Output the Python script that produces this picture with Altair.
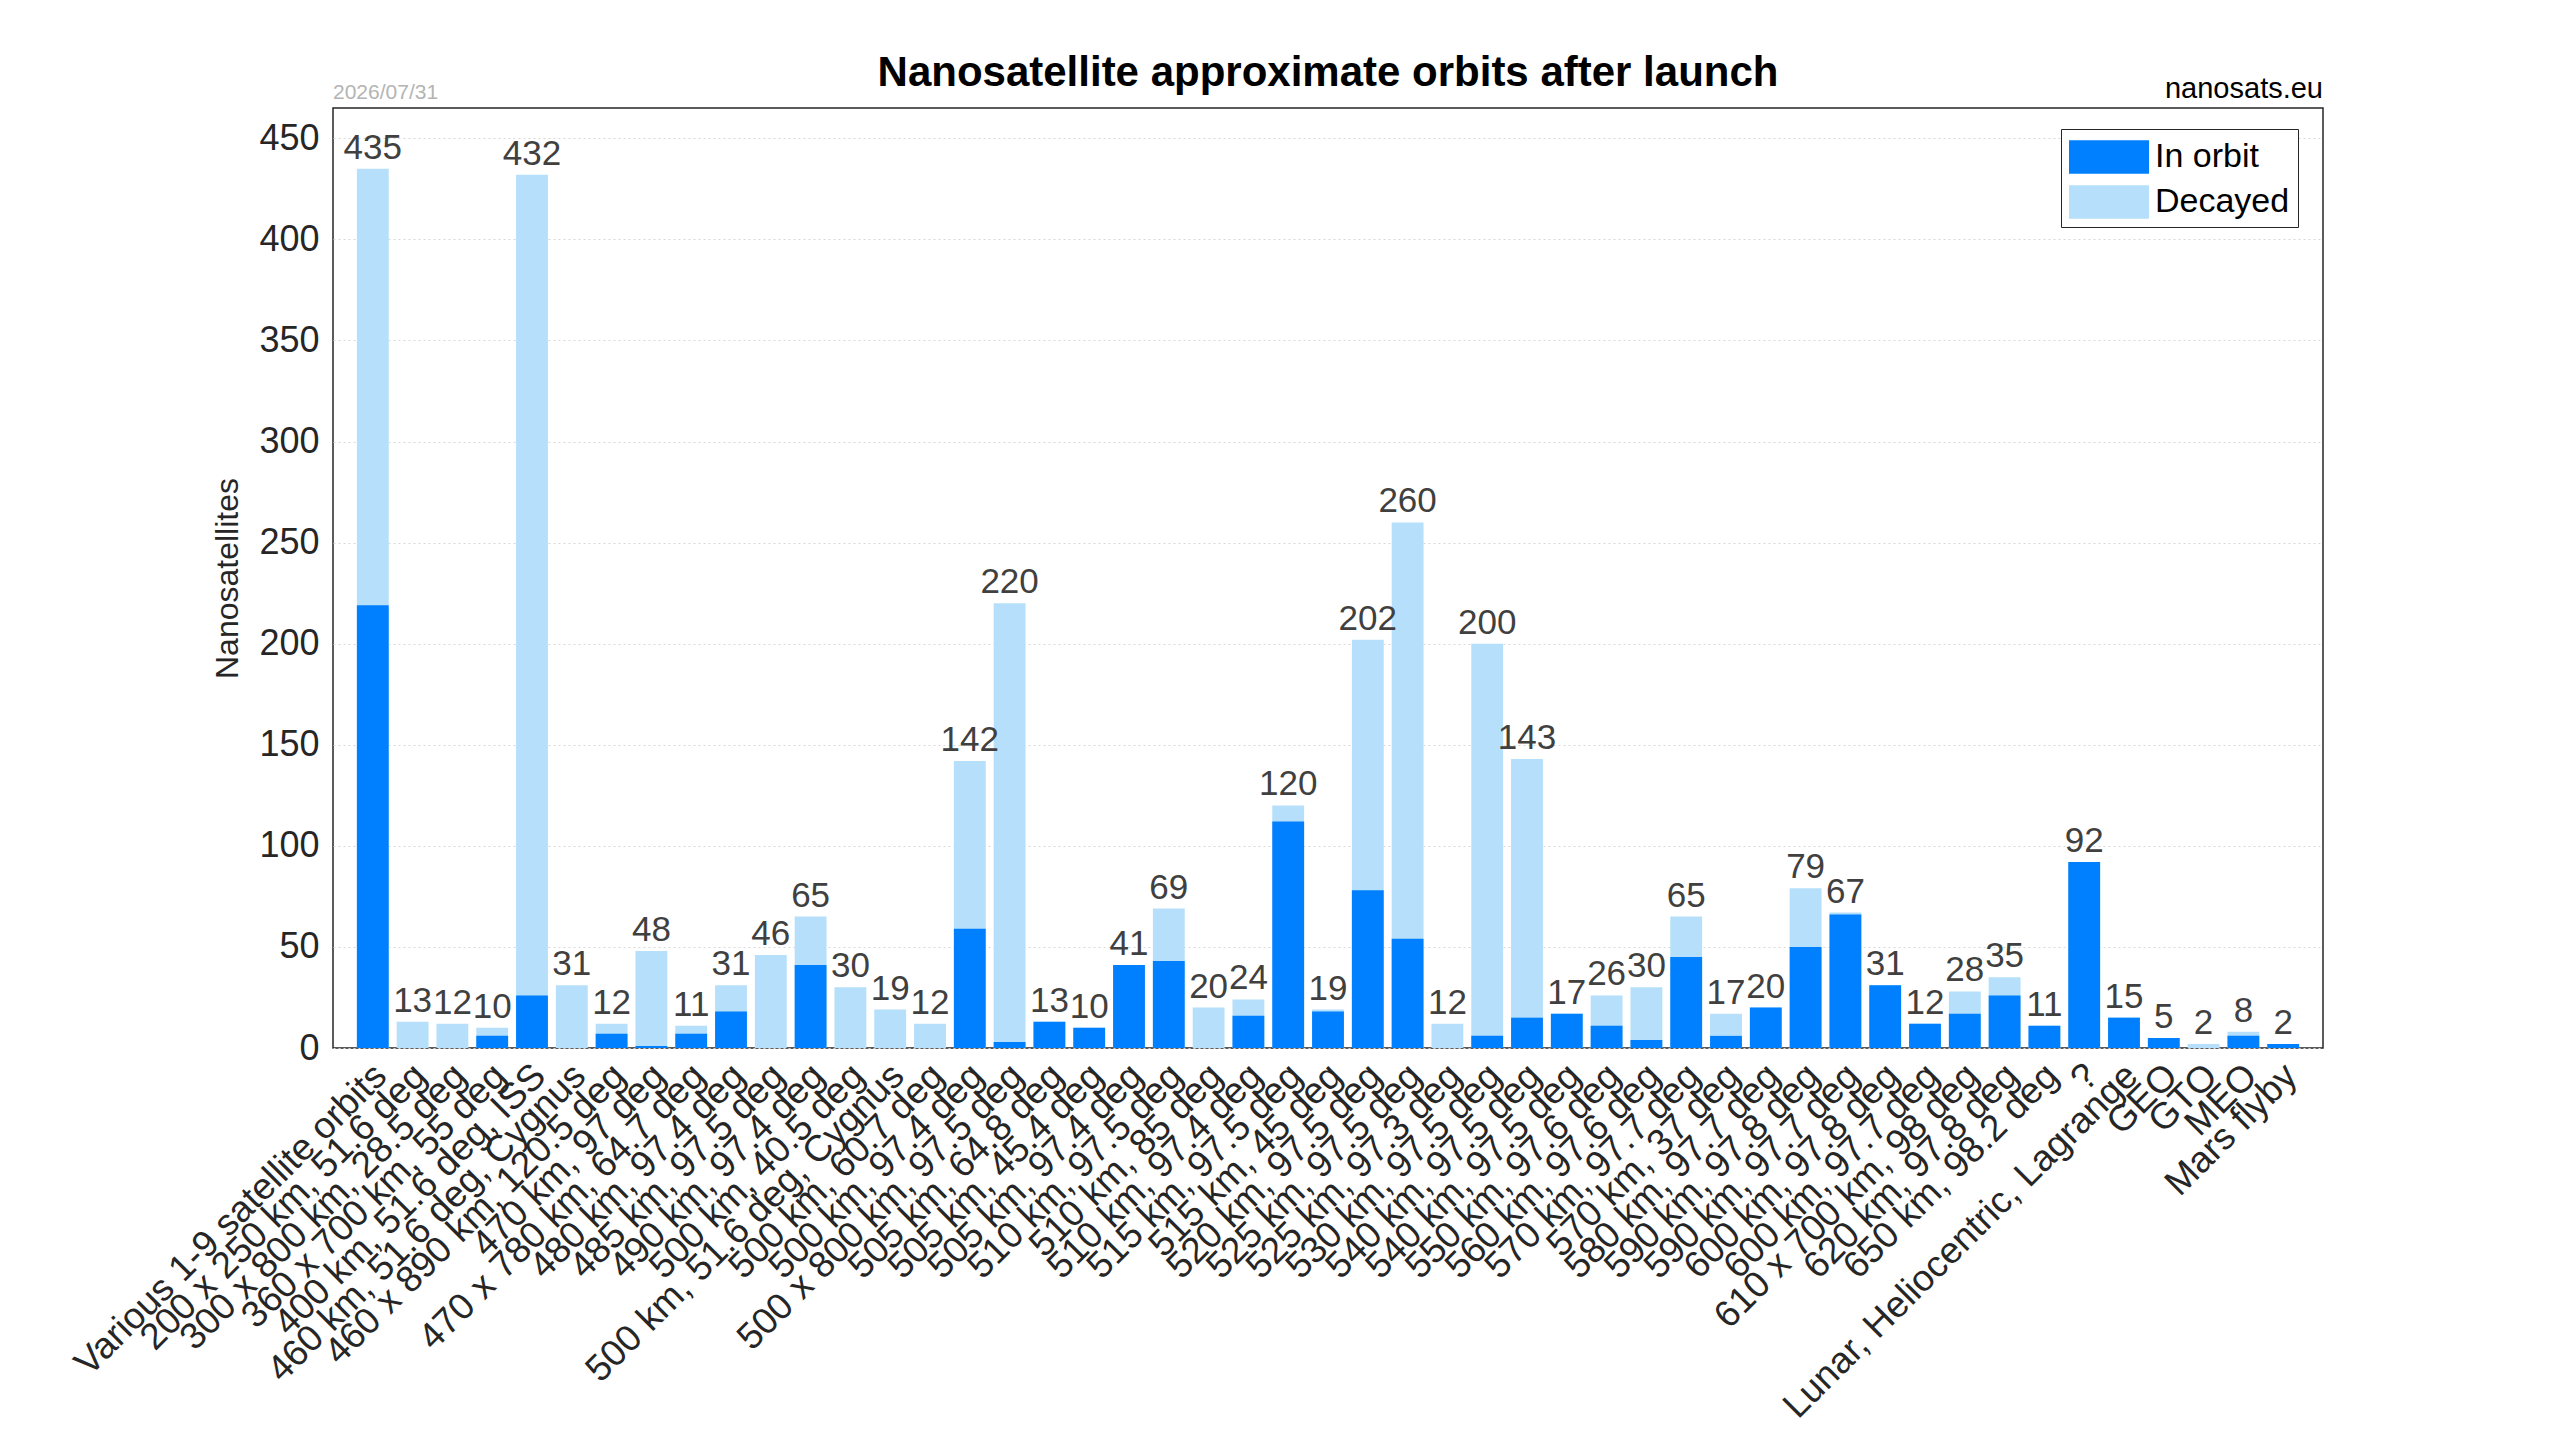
import json
import altair as alt
import pandas as pd

labels = [
    "Various 1-9 satellite orbits",
    "200 x 250 km, 51.6 deg",
    "300 x 800 km, 28.5 deg",
    "360 x 700 km, 55 deg",
    "400 km, 51.6 deg, ISS",
    "460 km, 51.6 deg, Cygnus",
    "460 x 890 km, 120.5 deg",
    "470 km, 97 deg",
    "470 x 780 km, 64.7 deg",
    "480 km, 97.4 deg",
    "485 km, 97.5 deg",
    "490 km, 97.4 deg",
    "500 km, 40.5 deg",
    "500 km, 51.6 deg, Cygnus",
    "500 km, 60.7 deg",
    "500 km, 97.4 deg",
    "500 x 800 km, 97.5 deg",
    "505 km, 64.8 deg",
    "505 km, 45.4 deg",
    "505 km, 97.4 deg",
    "510 km, 97.5 deg",
    "510 km, 85 deg",
    "510 km, 97.4 deg",
    "515 km, 97.5 deg",
    "515 km, 45 deg",
    "520 km, 97.5 deg",
    "525 km, 97.5 deg",
    "525 km, 97.3 deg",
    "530 km, 97.5 deg",
    "540 km, 97.5 deg",
    "540 km, 97.5 deg",
    "550 km, 97.6 deg",
    "560 km, 97.6 deg",
    "570 km, 97.7 deg",
    "570 km, 37 deg",
    "580 km, 97.7 deg",
    "590 km, 97.8 deg",
    "590 km, 97.7 deg",
    "600 km, 97.8 deg",
    "600 km, 97.7 deg",
    "610 x 700 km, 98 deg",
    "620 km, 97.8 deg",
    "650 km, 98.2 deg",
    "?",
    "Lunar, Heliocentric, Lagrange",
    "GEO",
    "GTO",
    "MEO",
    "Mars flyby",
]

total = [435, 13, 12, 10, 432, 31, 12, 48, 11, 31,
         46, 65, 30, 19, 12, 142, 220, 13, 10, 41,
         69, 20, 24, 120, 19, 202, 260, 12, 200, 143,
         17, 26, 30, 65, 17, 20, 79, 67, 31, 12,
         28, 35, 11, 92, 15, 5, 2, 8, 2]

in_orbit = [219, 0, 0, 6, 26, 0, 7, 1, 7, 18,
            0, 41, 0, 0, 0, 59, 3, 13, 10, 41,
            43, 0, 16, 112, 18, 78, 54, 0, 6, 15,
            17, 11, 4, 45, 6, 20, 50, 66, 31, 12,
            17, 26, 11, 92, 15, 5, 0, 6, 2]

series_names = ["In orbit", "Decayed"]
series_colors = ["#0080ff", "#b5dffa"]
y_ticks = [0, 50, 100, 150, 200, 250, 300, 350, 400, 450]
title_text = "Nanosatellite approximate orbits after launch"
date_text = "2026/07/31"
source_text = "nanosats.eu"

FONT = "Liberation Sans"
W, H = 1990, 940

n = len(labels)
idx = list(range(n))

rows = []
for i in idx:
    rows.append({"idx": i, "status": "Decayed", "value": total[i], "ord": 0})
for i in idx:
    rows.append({"idx": i, "status": "In orbit", "value": in_orbit[i], "ord": 1})
bars_df = pd.DataFrame(rows)
totals_df = pd.DataFrame({"idx": idx, "total": total})

label_expr = "[" + ",".join(json.dumps(s) for s in labels) + "][datum.value]"

x_enc = alt.X(
    "idx:O",
    scale=alt.Scale(paddingInner=0.2, paddingOuter=0.6),
    axis=alt.Axis(
        title=None,
        labelExpr=label_expr,
        labelAngle=-45,
        labelAlign="right",
        labelBaseline="middle",
        labelPadding=22,
        labelOffset=8,
        labelFontSize=37,
        labelFont=FONT,
        labelColor="#262626",
        ticks=False,
        domain=False,
        labelOverlap=False,
        labelLimit=0,
    ),
)
y_scale = alt.Scale(domain=[0, 465], nice=False)

bars = alt.Chart(bars_df).mark_bar().encode(
    x=x_enc,
    y=alt.Y(
        "value:Q",
        stack=None,
        scale=y_scale,
        axis=alt.Axis(
            title="Nanosatellites",
            titleFontSize=32,
            titleFont=FONT,
            titleFontWeight="normal",
            titleColor="#262626",
            titlePadding=14,
            values=y_ticks,
            labelFontSize=36,
            labelFont=FONT,
            labelColor="#262626",
            labelPadding=14,
            ticks=False,
            domain=False,
            grid=True,
            gridColor="#d8d8d8",
            gridDash=[2, 3],
            gridWidth=1,
        ),
    ),
    color=alt.Color(
        "status:N",
        scale=alt.Scale(domain=series_names, range=series_colors),
        legend=alt.Legend(
            title=None,
            orient="none",
            legendX=1728,
            legendY=21,
            direction="vertical",
            strokeColor="#262626",
            fillColor="white",
            padding=8,
            symbolType="M-2,-0.84H2V0.84H-2Z",
            symbolSize=1600,
            symbolOffset=20,
            symbolStrokeWidth=0,
            labelFontSize=34,
            labelFont=FONT,
            labelColor="#000000",
            labelOffset=26,
            rowPadding=8,
        ),
    ),
    order=alt.Order("ord:Q"),
)

texts = alt.Chart(totals_df).mark_text(
    baseline="bottom", dy=-3, fontSize=35, font=FONT, color="#404040"
).encode(
    x=alt.X("idx:O"),
    y=alt.Y("total:Q", scale=y_scale),
    text=alt.Text("total:Q"),
)

date_mark = alt.Chart(pd.DataFrame({"t": [date_text]})).mark_text(
    align="left", baseline="bottom", fontSize=21, font=FONT, color="#b4b4b4"
).encode(x=alt.value(0), y=alt.value(-5), text="t:N")

source_mark = alt.Chart(pd.DataFrame({"t": [source_text]})).mark_text(
    align="right", baseline="bottom", fontSize=29, font=FONT, color="#000000"
).encode(x=alt.value(W), y=alt.value(-4), text="t:N")

chart = alt.layer(bars, texts, date_mark, source_mark).properties(
    width=W,
    height=H,
    title=alt.TitleParams(
        title_text,
        fontSize=42,
        font=FONT,
        fontWeight="bold",
        color="#000000",
        anchor="middle",
        offset=-20,
    ),
    padding={"left": 59, "top": 44, "right": 10, "bottom": 0},
).configure(
    background="white"
).configure_view(
    stroke="#262626", strokeWidth=1.5
)

chart.save("out.html", embed_options={"renderer": "svg", "actions": False})
